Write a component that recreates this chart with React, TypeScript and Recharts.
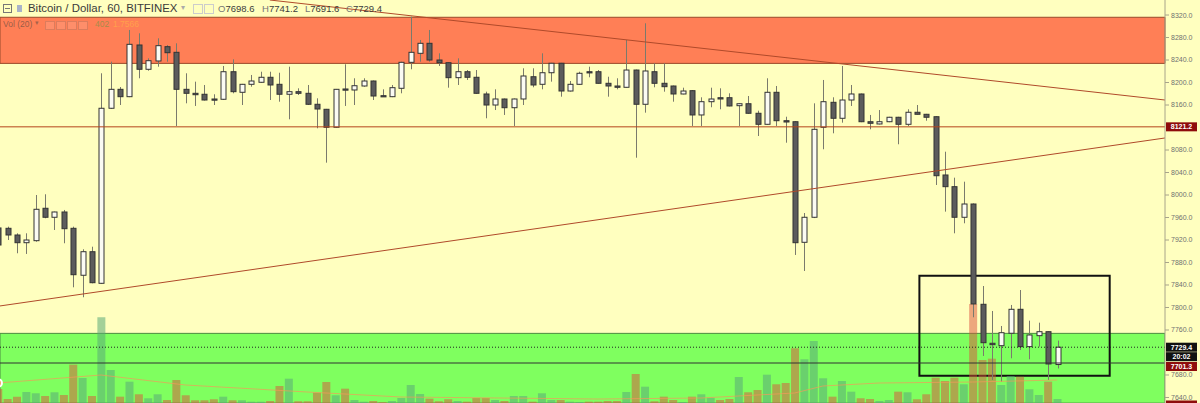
import React from 'react'
import { ComposedChart, Bar, Line, XAxis, YAxis, ReferenceArea, ReferenceLine, Cell } from 'recharts'

// hourly BTC/USD candles (index 0 is the half-visible one at the left edge)
const opens = [
  7941.4, 7940.8, 7928.9, 7915.2, 7918.8, 7976.4, 7960.4, 7969.8, 7940.8, 7857.3,
  7899.2, 7843.0, 8154.2, 8187.9, 8174.8, 8266.7, 8223.5, 8238.3, 8263.7, 8253.7,
  8187.9, 8180.8, 8179.1, 8170.7, 8170.2, 8219.2, 8182.6, 8196.8, 8200.4, 8209.3,
  8196.8, 8179.1, 8183.7, 8180.8, 8161.3, 8152.4, 8120.4, 8188.5, 8186.7, 8193.8,
  8202.7, 8176.6, 8174.8, 8189.7, 8235.9, 8251.9, 8269.7, 8240.0, 8235.2, 8208.6,
  8219.2, 8209.3, 8179.6, 8160.0, 8170.7, 8155.2, 8170.7, 8210.3, 8196.8, 8217.4,
  8234.2, 8184.9, 8196.8, 8219.2, 8219.2, 8198.6, 8193.8, 8191.5, 8222.2, 8161.3,
  8219.2, 8198.6, 8193.8, 8179.6, 8185.5, 8142.3, 8165.9, 8173.0, 8173.0, 8158.8,
  8162.3, 8145.3, 8125.7, 8182.6, 8132.1, 8130.3, 7915.9, 7960.4, 8120.4, 8164.8,
  8136.4, 8168.9, 8179.6, 8130.3, 8126.3, 8130.3, 8138.2, 8125.7, 8147.1, 8143.5,
  8139.2, 8035.6, 8014.8, 7960.4, 7984.0, 7805.7, 7736.4, 7732.1, 7754.2, 7796.8,
  7730.4, 7749.9, 7757.0, 7698.6,
]
const highs = [
  7945.0, 7943.7, 7931.9, 7931.9, 8000.0, 8001.3, 7970.5, 7973.4, 7943.7, 7903.5,
  7908.1, 8216.4, 8237.0, 8192.0, 8293.4, 8287.5, 8243.0, 8278.6, 8266.7, 8269.7,
  8216.4, 8201.5, 8195.6, 8179.1, 8229.4, 8241.3, 8197.5, 8213.4, 8219.2, 8219.2,
  8217.4, 8228.1, 8189.7, 8195.6, 8171.9, 8153.0, 8188.5, 8232.4, 8207.5, 8207.5,
  8203.5, 8187.9, 8195.6, 8237.0, 8317.0, 8275.6, 8293.4, 8251.9, 8236.0, 8243.0,
  8222.2, 8222.2, 8183.7, 8187.9, 8171.5, 8171.5, 8225.3, 8225.3, 8251.9, 8235.0,
  8235.0, 8202.7, 8219.2, 8228.1, 8222.2, 8210.3, 8207.5, 8275.6, 8223.0, 8305.3,
  8234.2, 8234.2, 8194.5, 8190.8, 8186.5, 8173.7, 8190.8, 8189.7, 8180.8, 8163.0,
  8176.0, 8149.9, 8207.5, 8193.8, 8139.2, 8131.0, 7968.0, 8163.0, 8204.5, 8173.7,
  8229.4, 8195.6, 8180.3, 8142.3, 8151.1, 8139.0, 8139.0, 8152.4, 8160.0, 8144.2,
  8140.0, 8077.0, 8030.8, 8023.7, 7985.0, 7838.2, 7793.8, 7767.1, 7804.5, 7831.1,
  7776.6, 7773.0, 7757.5, 7741.2,
]
const lows = [
  7889.8, 7920.0, 7896.4, 7895.2, 7917.0, 7958.6, 7937.8, 7914.2, 7835.9, 7818.2,
  7843.0, 7842.0, 8153.0, 8160.0, 8174.0, 8207.5, 8221.0, 8228.1, 8237.0, 8122.7,
  8163.0, 8158.3, 8168.0, 8160.0, 8169.0, 8180.8, 8160.0, 8192.6, 8199.5, 8168.9,
  8165.9, 8134.6, 8177.8, 8160.0, 8118.6, 8057.5, 8119.5, 8158.3, 8160.0, 8192.6,
  8168.9, 8174.8, 8174.0, 8180.8, 8223.5, 8237.0, 8237.0, 8229.4, 8190.8, 8195.6,
  8204.5, 8180.0, 8136.4, 8151.1, 8142.3, 8122.7, 8160.0, 8191.5, 8187.9, 8201.5,
  8174.8, 8184.0, 8196.0, 8209.3, 8198.0, 8174.8, 8187.9, 8191.0, 8066.3, 8146.4,
  8191.5, 8183.7, 8165.9, 8179.0, 8122.7, 8122.7, 8156.0, 8152.4, 8157.5, 8122.7,
  8144.5, 8104.9, 8125.0, 8122.7, 8093.0, 7893.4, 7864.9, 7959.0, 8081.3, 8109.7,
  8128.6, 8158.3, 8129.5, 8116.8, 8125.5, 8129.5, 8090.2, 8122.7, 8143.0, 8132.1,
  8017.8, 7970.4, 7931.9, 7949.7, 7782.6, 7713.8, 7671.1, 7668.1, 7709.7, 7724.5,
  7707.9, 7730.4, 7671.1, 7691.6,
]
const closes = [
  7911.1, 7928.9, 7915.2, 7920.0, 7974.6, 7960.4, 7969.8, 7940.1, 7858.3, 7899.2,
  7844.1, 8154.2, 8187.9, 8174.8, 8267.9, 8223.5, 8238.8, 8265.5, 8253.0, 8187.9,
  8180.8, 8178.3, 8168.9, 8168.9, 8219.2, 8183.7, 8196.8, 8202.7, 8209.3, 8195.6,
  8179.1, 8183.7, 8180.8, 8161.3, 8152.9, 8120.4, 8187.9, 8186.7, 8194.3, 8202.7,
  8176.0, 8175.5, 8190.8, 8235.9, 8253.7, 8269.7, 8240.0, 8235.2, 8208.6, 8219.2,
  8209.3, 8180.8, 8160.0, 8170.7, 8155.2, 8170.7, 8211.6, 8195.6, 8217.4, 8234.2,
  8184.9, 8196.8, 8216.4, 8217.4, 8198.6, 8193.8, 8191.5, 8222.2, 8161.3, 8220.5,
  8198.6, 8192.6, 8179.6, 8184.9, 8142.3, 8165.9, 8170.7, 8170.7, 8158.3, 8162.3,
  8145.3, 8125.7, 8182.6, 8132.1, 8129.8, 7915.2, 7960.4, 8116.8, 8165.9, 8136.4,
  8168.9, 8179.6, 8130.3, 8127.5, 8130.3, 8138.2, 8125.7, 8147.1, 8143.5, 8138.2,
  8034.3, 8014.8, 7960.4, 7984.0, 7806.3, 7737.4, 7733.9, 7755.2, 7796.8, 7730.4,
  7751.1, 7757.0, 7699.6, 7729.4,
]
const volumes = [
  350, 100, 158, 275, 243, 175, 268, 200, 958, 625,
  175, 2143, 825, 158, 533, 218, 118, 218, 75, 575,
  193, 68, 68, 93, 158, 68, 68, 33, 33, 50,
  425, 608, 43, 43, 258, 525, 193, 358, 75, 33,
  50, 20, 50, 125, 450, 225, 108, 43, 93, 50,
  33, 125, 125, 75, 50, 175, 175, 33, 243, 75,
  75, 33, 25, 33, 33, 50, 50, 275, 725, 408,
  43, 158, 75, 25, 158, 218, 133, 75, 100, 650,
  268, 325, 708, 468, 500, 1368, 1093, 1550, 618, 158,
  550, 283, 118, 100, 50, 75, 283, 268, 93, 218,
  633, 550, 633, 468, 2475, 1075, 1108, 450, 675, 658,
  343, 200, 533, 100,
]
// Vol(20) moving average, read at a few candles only
const volMaIndex = [0, 11, 20, 33, 43, 64, 75, 85, 88, 94, 104, 113]
const volMaValues = [500, 700, 450, 275, 150, 100, 125, 250, 425, 500, 525, 575]

// 7720 and 8120 sit under the price tags in the original, so they are left out
const priceTicks = [
  7640, 7680, 7760, 7800, 7840, 7880, 7920, 7960, 8000,
  8040, 8080, 8160, 8200, 8240, 8280, 8320,
]

const resistance = [8234, 8316]
const support = [7630, 7754]
const midLine = 8121.2
const lastPrice = 7729.4
const lastOpen = 7701.3
const countdown = '20:02'
const fallingLine = [{ x: 29, y: 8346.7 }, { x: 124.5, y: 8168.9 }]
const risingLine = [{ x: 0.2, y: 7802.7 }, { x: 124.5, y: 8101.4 }]
const boxX = [98.3, 118.6]
const boxY = [7678.8, 7856.5]

const X_DOMAIN = [0.22, 124.5]
const PRICE_DOMAIN = [7630.2, 8346.7]
const VOL_DOMAIN = [0, 10075]

const rows = opens.map((o, i) => {
  const m = volMaIndex.indexOf(i)
  return {
    i,
    open: o,
    high: highs[i],
    low: lows[i],
    close: closes[i],
    range: [lows[i], highs[i]],
    volume: volumes[i],
    volMa: m >= 0 ? volMaValues[m] : null,
    up: closes[i] >= o,
  }
})

const FONT = '"Liberation Sans", Arial, sans-serif'

const Candle = (props: any) => {
  const { x, y, width, height, payload } = props
  if (!payload) return null
  const top = Math.min(y, y + height)
  const h = Math.abs(height)
  const { open, close, high, low } = payload
  const toY = (v: number) => top + ((high - v) / (high - low)) * h
  const cx = Math.round(x + width / 2) + 0.5
  const bTop = toY(Math.max(open, close))
  const bBot = toY(Math.min(open, close))
  const up = close >= open
  return (
    <g>
      <line x1={cx} x2={cx} y1={top} y2={top + h} stroke="#7a7a6c" strokeWidth={1} />
      <rect
        x={cx - 2.5}
        y={bTop}
        width={5}
        height={Math.max(bBot - bTop, 1.2)}
        fill={up ? '#fbfbf3' : '#5c5c5c'}
        stroke="#333"
        strokeWidth={1}
      />
    </g>
  )
}

const PriceTag = (props: any) => {
  const { viewBox, text, bg, shift = 0 } = props
  if (!viewBox) return null
  const x = viewBox.x + viewBox.width + 1
  const cy = viewBox.y + shift
  return (
    <g>
      <rect x={x} y={cy - 4.5} width={31} height={9} fill={bg} />
      {text ? (
        <text
          x={x + 15.5}
          y={cy + 2.5}
          textAnchor="middle"
          fontSize={7}
          fontWeight="bold"
          fill="#fff"
          fontFamily={FONT}
        >
          {text}
        </text>
      ) : null}
    </g>
  )
}

const Icon = ({ left }: { left: number }) => (
  <div
    style={{
      position: 'absolute',
      left,
      top: 21,
      width: 8,
      height: 7,
      border: '1px solid rgba(120,70,50,0.25)',
      background: 'rgba(255,255,255,0.12)',
    }}
  />
)

const Ohlc = ({ left, letter, value }: { left: number; letter: string; value: number }) => (
  <div style={{ position: 'absolute', left, top: 3, fontSize: 9.5, color: '#3c3c3c', whiteSpace: 'nowrap' }}>
    <span style={{ color: '#777' }}>{letter}</span>
    {value.toFixed(1)}
  </div>
)

export default function App() {
  const last = rows[rows.length - 1]
  return (
    <div
      style={{
        position: 'fixed',
        left: 0,
        top: 0,
        width: 1200,
        height: 403,
        background: '#ffffbf',
        overflow: 'hidden',
        fontFamily: FONT,
      }}
    >
      <ComposedChart width={1200} height={403} data={rows} margin={{ top: 0, right: 0, bottom: 0, left: 0 }}>
        <XAxis xAxisId="c" dataKey="i" type="number" domain={X_DOMAIN} allowDataOverflow hide />
        <XAxis xAxisId="v" dataKey="i" type="number" domain={X_DOMAIN} allowDataOverflow hide />
        <YAxis
          yAxisId="price"
          orientation="right"
          width={35}
          domain={PRICE_DOMAIN}
          allowDataOverflow
          ticks={priceTicks}
          interval={0}
          tickFormatter={(v: number) => v.toFixed(1)}
          tick={{ fontSize: 7, fill: '#707070', fontFamily: FONT }}
          tickSize={4}
          tickMargin={2}
          stroke="#a8a48a"
        />
        <YAxis yAxisId="vol" hide domain={VOL_DOMAIN} allowDataOverflow />

        <ReferenceArea
          xAxisId="c"
          yAxisId="price"
          y1={resistance[0]}
          y2={resistance[1]}
          fill="#ff7f56"
          fillOpacity={1}
          stroke="#9a4a2a"
          strokeWidth={1}
        />
        <ReferenceArea
          xAxisId="c"
          yAxisId="price"
          y1={support[0]}
          y2={support[1]}
          fill="#7fff5f"
          fillOpacity={1}
          stroke="#4d8c42"
          strokeWidth={1}
          ifOverflow="hidden"
        />

        <Bar xAxisId="v" yAxisId="vol" dataKey="volume" barSize={8} isAnimationActive={false}>
          {rows.map((r) => (
            <Cell key={r.i} fill={r.up ? 'rgba(90,170,120,0.55)' : 'rgba(220,80,60,0.5)'} />
          ))}
        </Bar>
        <Line
          xAxisId="v"
          yAxisId="vol"
          dataKey="volMa"
          stroke="#f39a5a"
          strokeOpacity={0.7}
          strokeWidth={1}
          dot={false}
          connectNulls
          isAnimationActive={false}
        />

        <ReferenceLine xAxisId="c" yAxisId="price" y={midLine} stroke="#b5451b" strokeWidth={1}
          label={<PriceTag text={midLine.toFixed(1)} bg="#8e0c0c" />} />
        <ReferenceLine xAxisId="c" yAxisId="price" segment={fallingLine} stroke="#b04a2a" strokeWidth={1} ifOverflow="hidden" />
        <ReferenceLine xAxisId="c" yAxisId="price" segment={risingLine} stroke="#b04a2a" strokeWidth={1} ifOverflow="hidden" />

        <Bar xAxisId="c" yAxisId="price" dataKey="range" barSize={6} shape={Candle} isAnimationActive={false} />

        <ReferenceLine xAxisId="c" yAxisId="price" y={lastPrice} stroke="#222" strokeDasharray="1 2" strokeWidth={1}
          label={<PriceTag text={lastPrice.toFixed(1)} bg="#111" />} />
        <ReferenceLine xAxisId="c" yAxisId="price" y={lastPrice} stroke="none"
          label={<PriceTag text={countdown} bg="#111" shift={9.5} />} />
        <ReferenceLine xAxisId="c" yAxisId="price" y={lastOpen} stroke="#333" strokeWidth={1}
          label={<PriceTag text={lastOpen.toFixed(1)} bg="#8e0c0c" shift={3.5} />} />
        {/* volume tag, cut off by the bottom edge in the original */}
        <ReferenceLine xAxisId="v" yAxisId="vol" y={last.volume} stroke="none"
          label={<PriceTag text="" bg="#8e0c0c" shift={6} />} />

        <ReferenceArea
          xAxisId="c"
          yAxisId="price"
          x1={boxX[0]}
          x2={boxX[1]}
          y1={boxY[0]}
          y2={boxY[1]}
          fill="none"
          stroke="#111"
          strokeWidth={2}
        />
      </ComposedChart>

      {/* legend / header */}
      <div style={{ position: 'absolute', left: 3, top: 4, width: 7, height: 7, border: '1px solid #777' }}>
        <div style={{ position: 'absolute', left: 1, top: 3, width: 5, height: 1, background: '#777' }} />
      </div>
      <div style={{ position: 'absolute', left: 17, top: 5, width: 5, height: 7, background: '#a9b3c9' }} />
      <div style={{ position: 'absolute', left: 28, top: 2, fontSize: 11.4, color: '#3a3a3a', whiteSpace: 'nowrap' }}>
        Bitcoin / Dollar, 60, BITFINEX
      </div>
      <div style={{ position: 'absolute', left: 181, top: 3, fontSize: 8, color: '#aaa' }}>▾</div>
      <div style={{ position: 'absolute', left: 193, top: 4, width: 8, height: 8, border: '1px solid #ccc' }} />
      <div style={{ position: 'absolute', left: 204, top: 4, width: 8, height: 8, border: '1px solid #ccc' }} />
      <Ohlc left={218} letter="O" value={last.open} />
      <Ohlc left={262} letter="H" value={last.high} />
      <Ohlc left={305} letter="L" value={last.low} />
      <Ohlc left={346} letter="C" value={last.close} />

      <div style={{ position: 'absolute', left: 3, top: 19, fontSize: 8.5, color: 'rgba(80,70,60,0.6)', whiteSpace: 'nowrap' }}>
        Vol (20)
      </div>
      <div style={{ position: 'absolute', left: 35, top: 19, fontSize: 7, color: 'rgba(80,70,60,0.5)' }}>▾</div>
      <Icon left={45} />
      <Icon left={56} />
      <Icon left={67} />
      <Icon left={78} />
      <div style={{ position: 'absolute', left: 95, top: 19, fontSize: 8.5, color: 'rgba(90,150,60,0.55)' }}>402</div>
      <div style={{ position: 'absolute', left: 113, top: 19, fontSize: 8.5, color: 'rgba(255,175,70,0.7)' }}>1.7566</div>
    </div>
  )
}
